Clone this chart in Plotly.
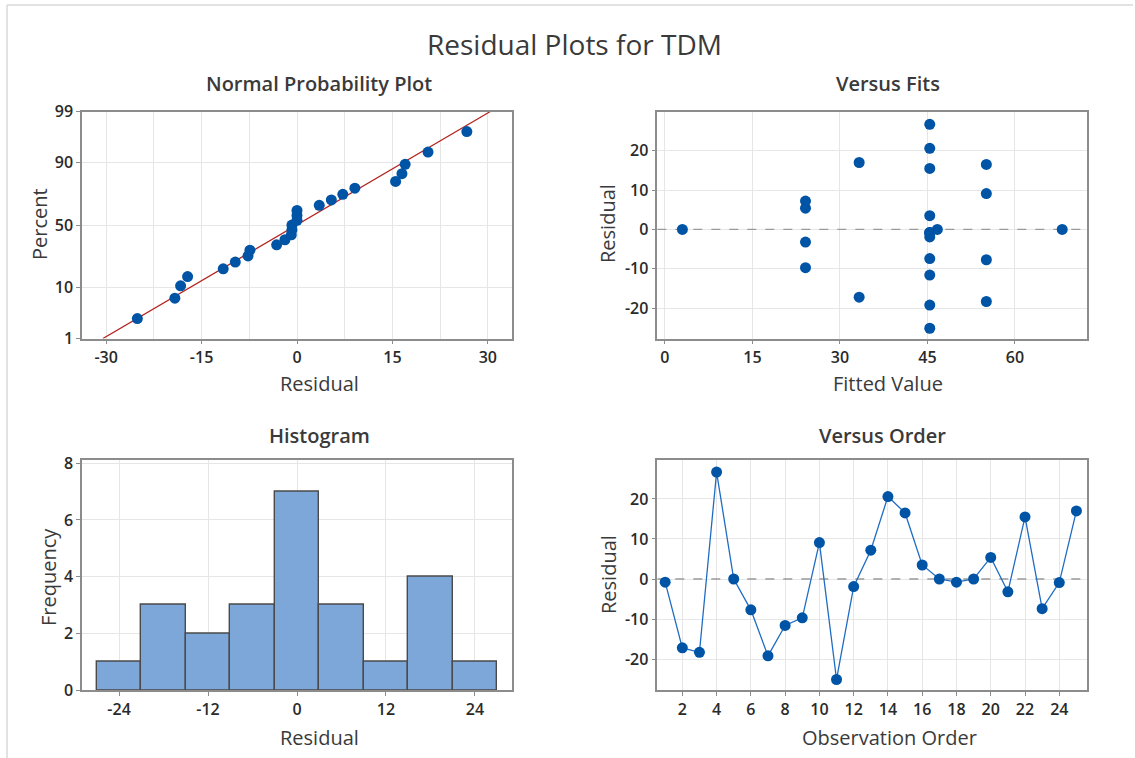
import numpy as np
import plotly.graph_objects as go
from statistics import NormalDist

# Residuals and fitted values for the 25 observations of the TDM model, in run order
observation = list(range(1, 26))
residuals = [-0.8, -17.2, -18.3, 26.7, 0.0, -7.7, -19.2, -11.6, -9.7, 9.1,
             -25.1, -1.9, 7.2, 20.6, 16.5, 3.5, 0.0, -0.8, 0.0, 5.4,
             -3.2, 15.5, -7.4, -0.9, 17.0]
fitted = [45.4, 33.3, 55.1, 45.4, 3.0, 55.1, 45.4, 45.4, 24.1, 55.1,
          45.4, 45.4, 24.1, 45.4, 55.1, 45.4, 46.7, 45.4, 68.1, 24.1,
          24.1, 45.4, 45.4, 45.4, 33.3]

percent_ticks = [1, 10, 50, 90, 99]
resid_ticks = [-30, -15, 0, 15, 30]
fit_ticks = [0, 15, 30, 45, 60]
resid_y_ticks = [-20, -10, 0, 10, 20]
hist_ticks = [-24, -12, 0, 12, 24]
freq_ticks = [0, 2, 4, 6, 8]
hist_bin_start, hist_bin_size = -27, 6
order_ticks = list(range(2, 25, 2))

W, H = 1135, 758
FONT = "Open Sans"
TXT = "#3a3a3a"
TICK_TXT = "#2a2a2a"
DOT = "#0054a6"
FRAME = "#8c8c8c"
GRID = "#e6e6e6"

nd = NormalDist()

# Normal probability plot coordinates (median ranks)
r = np.array(residuals, dtype=float)
n = len(r)
sorted_r = np.sort(r)
ranks = (np.arange(1, n + 1) - 0.3) / (n + 0.4)
z_pts = [nd.inv_cdf(p) for p in ranks]
z_lo, z_hi = nd.inv_cdf(0.01), nd.inv_cdf(0.99)
mu, sd = r.mean(), r.std(ddof=1)
line_z = [z_lo, z_hi]
line_x = [mu + sd * z for z in line_z]


def px_x(x):
    return x / W


def px_y(y):
    return 1 - y / H


dom_left = [px_x(82), px_x(512)]
dom_right = [px_x(657.3), px_x(1086.7)]
dom_top = [px_y(338.5), px_y(111.7)]
dom_bot = [px_y(690.3), px_y(459.7)]

fig = go.Figure()

# Normal probability plot
fig.add_trace(go.Scatter(x=line_x, y=line_z, mode="lines",
                         line=dict(color="#b3241f", width=1.3),
                         xaxis="x", yaxis="y", hoverinfo="skip"))
fig.add_trace(go.Scatter(x=sorted_r, y=z_pts, mode="markers",
                         marker=dict(color=DOT, size=11),
                         xaxis="x", yaxis="y"))

# Versus fits
fig.add_trace(go.Scatter(x=[-1.3, 72.3], y=[0, 0], mode="lines",
                         line=dict(color="#9a9a9a", width=1.3, dash="dash"),
                         xaxis="x2", yaxis="y2", hoverinfo="skip"))
fig.add_trace(go.Scatter(x=fitted, y=residuals, mode="markers",
                         marker=dict(color=DOT, size=11),
                         xaxis="x2", yaxis="y2"))

# Histogram
fig.add_trace(go.Histogram(x=residuals,
                           xbins=dict(start=hist_bin_start, end=27, size=hist_bin_size),
                           marker=dict(color="#7da7d9",
                                       line=dict(color="#4a4a4a", width=1.4)),
                           xaxis="x3", yaxis="y3"))

# Versus order
fig.add_trace(go.Scatter(x=[0.54, 25.6], y=[0, 0], mode="lines",
                         line=dict(color="#9a9a9a", width=1.3, dash="dash"),
                         xaxis="x4", yaxis="y4", hoverinfo="skip"))
fig.add_trace(go.Scatter(x=observation, y=residuals, mode="lines+markers",
                         line=dict(color="#1f6cc4", width=1.3),
                         marker=dict(color=DOT, size=11),
                         xaxis="x4", yaxis="y4"))


def axis(vals, text=None, **kw):
    base = dict(showline=True, mirror=True, linecolor=FRAME, linewidth=1.5,
                ticks="outside", ticklen=4, tickcolor=FRAME, tickwidth=1,
                showgrid=True, gridcolor=GRID, gridwidth=1, zeroline=False,
                automargin=False, tickvals=vals,
                ticktext=text if text is not None else [str(v) for v in vals],
                tickfont=dict(family=FONT, size=16, color=TICK_TXT, weight=600))
    base.update(kw)
    return base


fig.update_layout(
    width=W, height=H,
    margin=dict(l=0, r=0, t=0, b=0, pad=0, autoexpand=False),
    paper_bgcolor="white", plot_bgcolor="white",
    showlegend=False, bargap=0,
    xaxis=axis(resid_ticks, domain=dom_left, anchor="y", range=[-33.8, 33.8],
               minor=dict(dtick=7.5, tick0=0, showgrid=True, gridcolor=GRID, ticks="")),
    yaxis=axis([nd.inv_cdf(p / 100) for p in percent_ticks],
               [str(p) for p in percent_ticks],
               domain=dom_top, anchor="x", range=[z_lo, z_hi]),
    xaxis2=axis(fit_ticks, domain=dom_right, anchor="y2", range=[-1.3, 72.3]),
    yaxis2=axis(resid_y_ticks, domain=dom_top, anchor="x2", range=[-27.7, 29.9]),
    xaxis3=axis(hist_ticks, domain=dom_left, anchor="y3", range=[-29.0, 29.0]),
    yaxis3=axis(freq_ticks, domain=dom_bot, anchor="x3", range=[0, 8.12]),
    xaxis4=axis(order_ticks, domain=dom_right, anchor="y4", range=[0.54, 25.6]),
    yaxis4=axis(resid_y_ticks, domain=dom_bot, anchor="x4", range=[-27.8, 29.8]),
)

annotations = []


def label(text, x, y, size, angle=0, weight=None):
    f = dict(family=FONT, size=size, color=TXT)
    if weight:
        f["weight"] = weight
    annotations.append(dict(text=text, x=px_x(x), y=px_y(y), xref="paper", yref="paper",
                            showarrow=False, xanchor="center", yanchor="middle",
                            textangle=angle, font=f))


label("Residual Plots for TDM", 574, 44, 28)
label("Normal Probability Plot", 319, 83, 20, weight=600)
label("Versus Fits", 888, 83, 20, weight=600)
label("Histogram", 319, 435, 20, weight=600)
label("Versus Order", 882, 435, 20, weight=600)
label("Residual", 319, 383, 20)
label("Fitted Value", 888, 383, 20)
label("Residual", 319, 737, 20)
label("Observation Order", 889, 737, 20)
label("Percent", 40, 224, 20, angle=-90)
label("Residual", 608, 224, 20, angle=-90)
label("Frequency", 48, 577, 20, angle=-90)
label("Residual", 608, 575, 20, angle=-90)
fig.update_layout(annotations=annotations)

# Outer frame lines along the top and left edges
fig.update_layout(shapes=[
    dict(type="line", xref="paper", yref="paper", x0=px_x(7), x1=px_x(1133),
         y0=px_y(5), y1=px_y(5), line=dict(color="#d9d9d9", width=1.5)),
    dict(type="line", xref="paper", yref="paper", x0=px_x(7), x1=px_x(7),
         y0=px_y(5), y1=0, line=dict(color="#d9d9d9", width=1.5)),
])

fig.write_html("out.html")
